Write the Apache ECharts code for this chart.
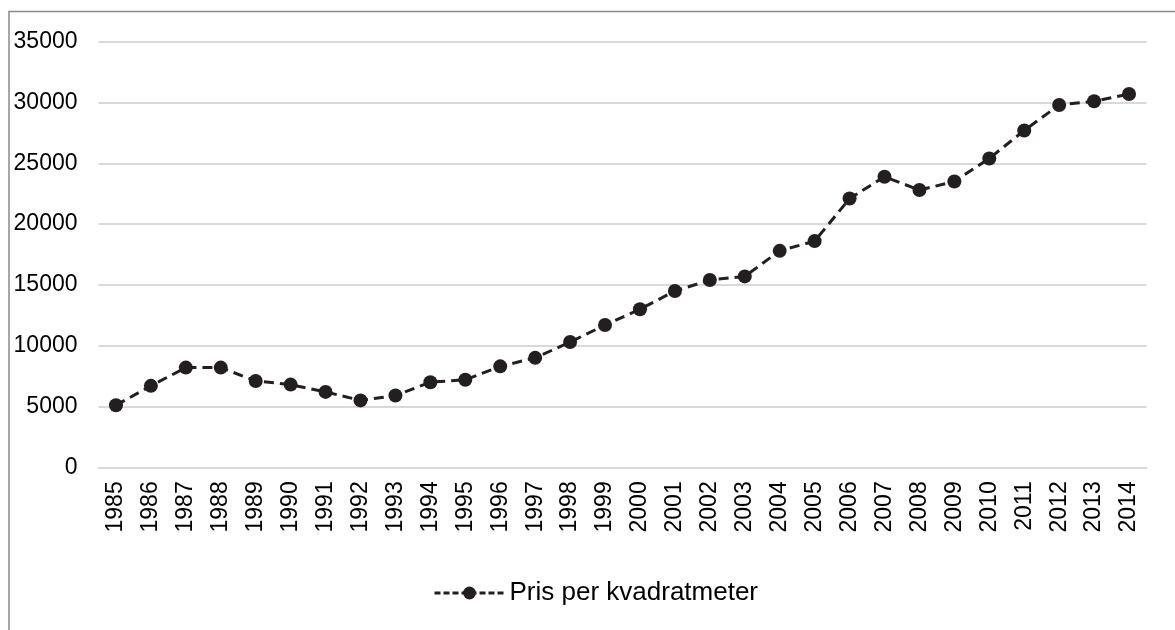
<!DOCTYPE html>
<html>
<head>
<meta charset="utf-8">
<script src="https://cdn.jsdelivr.net/npm/echarts@6/dist/echarts.min.js"></script>
<style>
html,body{margin:0;padding:0;background:#fff;}
#chart{width:1175px;height:630px;}
</style>
</head>
<body>
<div id="chart"></div>
<script>
const years = ['1985','1986','1987','1988','1989','1990','1991','1992','1993','1994','1995','1996','1997','1998','1999','2000','2001','2002','2003','2004','2005','2006','2007','2008','2009','2010','2011','2012','2013','2014'];
const prices = [5100,6700,8200,8200,7100,6800,6200,5500,5900,7000,7200,8300,9000,10300,11700,13000,14500,15400,15700,17800,18600,22100,23900,22800,23500,25400,27700,29800,30100,30700];
const seriesName = 'Pris per kvadratmeter';

const chart = echarts.init(document.getElementById('chart'), null, {renderer:'canvas'});
const font = 'Liberation Sans, Arial, sans-serif';
chart.setOption({
  animation:false,
  backgroundColor:'#fff',
  graphic:[{
    type:'rect', left:6.5, top:9, silent:true,
    shape:{width:1300,height:800},
    style:{fill:'none',stroke:'#8a8a8a',lineWidth:1.5}
  }],
  grid:{left:98.5,right:28.5,top:41.7,bottom:162.7,containLabel:false},
  xAxis:{
    type:'category', data:years, boundaryGap:true,
    axisLine:{show:true,lineStyle:{color:'#d9d9d9',width:2}},
    axisTick:{show:false},
    axisLabel:{rotate:90,margin:14,color:'#000',fontSize:23,fontFamily:font,interval:0}
  },
  yAxis:{
    type:'value', min:0, max:35000, interval:5000,
    axisLine:{show:false}, axisTick:{show:false},
    splitLine:{lineStyle:{color:'#d9d9d9',width:2}},
    axisLabel:{margin:21,color:'#000',fontSize:23,fontFamily:font,formatter:function(v){return String(v);}}
  },
  legend:{
    bottom:24, left:433, padding:0,
    itemWidth:70, itemHeight:16, itemGap:10,
    lineStyle:{width:3,type:[6,3],color:'#231f20'},
    textStyle:{color:'#000',fontSize:26,fontFamily:font},
    data:[seriesName]
  },
  series:[{
    name:seriesName, type:'line', data:prices,
    symbol:'circle', symbolSize:14,
    itemStyle:{color:'#231f20'},
    lineStyle:{color:'#231f20',width:3,type:[10,6]}
  }]
});
</script>
</body>
</html>
